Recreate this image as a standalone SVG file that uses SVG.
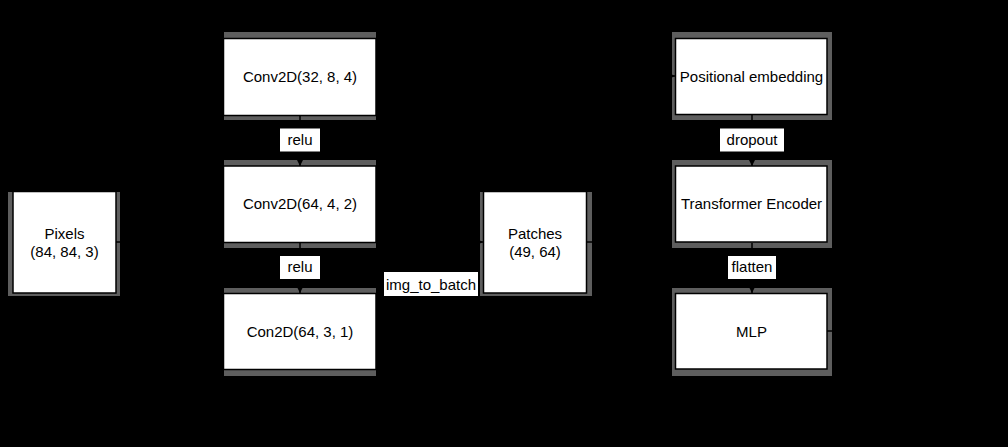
<svg xmlns="http://www.w3.org/2000/svg" width="1008" height="447" viewBox="0 0 1008 447">
<style>
.bg{fill:#000}
.sh{fill:#5e5e5e}
.box{fill:#fff;stroke:#000;stroke-width:1.5}
.t{font-family:"Liberation Sans",Arial,sans-serif;font-size:15px;fill:#000;text-anchor:middle}
.lb{fill:#fff}
.e{fill:none;stroke:#000;stroke-width:1.5}
</style>
<defs>
<marker id="ah" viewBox="0 0 10 10" refX="10" refY="5" markerWidth="6" markerHeight="6" orient="auto" markerUnits="userSpaceOnUse">
<path d="M0,0 L10,5 L0,10 Z" fill="#000"/>
</marker>
</defs>
<rect class="bg" x="0" y="0" width="1008" height="447"/>

<g id="pixels">
<rect class="sh" x="8" y="192" width="112" height="104"/>
<rect class="box" x="13" y="191.5" width="103" height="101.5"/>
<text class="t" x="64.5" y="238.5">Pixels</text>
<text class="t" x="64.5" y="256.5">(84, 84, 3)</text>
</g>

<g id="conv1">
<rect class="sh" x="224" y="32" width="152" height="88"/>
<rect class="box" x="223.5" y="38.5" width="152.5" height="77"/>
<text class="t" x="300" y="82">Conv2D(32, 8, 4)</text>
</g>

<g id="conv2">
<rect class="sh" x="224" y="160" width="152" height="88"/>
<rect class="box" x="223.5" y="166" width="152.5" height="76.5"/>
<text class="t" x="300" y="209">Conv2D(64, 4, 2)</text>
</g>

<g id="conv3">
<rect class="sh" x="224" y="288" width="152" height="88"/>
<rect class="box" x="223.5" y="293.5" width="152.5" height="76"/>
<text class="t" x="300" y="336.5">Con2D(64, 3, 1)</text>
</g>

<g id="patches">
<rect class="sh" x="480" y="192" width="112" height="104"/>
<rect class="box" x="483.5" y="191.5" width="103" height="101.5"/>
<text class="t" x="535" y="238.5">Patches</text>
<text class="t" x="535" y="256.5">(49, 64)</text>
</g>

<g id="posemb">
<rect class="sh" x="672" y="32" width="160" height="88"/>
<rect class="box" x="675.5" y="38.5" width="151.5" height="76"/>
<text class="t" x="751.5" y="82">Positional embedding</text>
</g>

<g id="transformer">
<rect class="sh" x="672" y="160" width="160" height="88"/>
<rect class="box" x="675.5" y="166" width="151.5" height="76"/>
<text class="t" x="751.5" y="209">Transformer Encoder</text>
</g>

<g id="mlp">
<rect class="sh" x="672" y="288" width="160" height="88"/>
<rect class="box" x="675.5" y="293.5" width="151.5" height="75.5"/>
<text class="t" x="751.5" y="336.5">MLP</text>
</g>

<g id="connectors">
<path class="e" d="M116,242 H170 V76 H223" marker-end="url(#ah)"/>
<path class="e" d="M300,116 V166" marker-end="url(#ah)"/>
<path class="e" d="M300,243 V293" marker-end="url(#ah)"/>
<path class="e" d="M376,331 H431 V242 H483" marker-end="url(#ah)"/>
<path class="e" d="M587,242 H632 V76 H675" marker-end="url(#ah)"/>
<path class="e" d="M752,115 V166" marker-end="url(#ah)"/>
<path class="e" d="M752,243 V293" marker-end="url(#ah)"/>
<path class="e" d="M827,331 H870"/>
<rect class="lb" x="280" y="128.5" width="40" height="23"/>
<text class="t" x="300" y="144.5">relu</text>
<rect class="lb" x="280" y="256" width="40" height="23"/>
<text class="t" x="300" y="272">relu</text>
<rect class="lb" x="384" y="272" width="94" height="24"/>
<text class="t" x="431" y="289.5">img_to_batch</text>
<rect class="lb" x="720" y="128.5" width="64" height="23"/>
<text class="t" x="752" y="144.5">dropout</text>
<rect class="lb" x="728" y="256" width="48" height="23"/>
<text class="t" x="752" y="272">flatten</text>
</g>
</svg>
